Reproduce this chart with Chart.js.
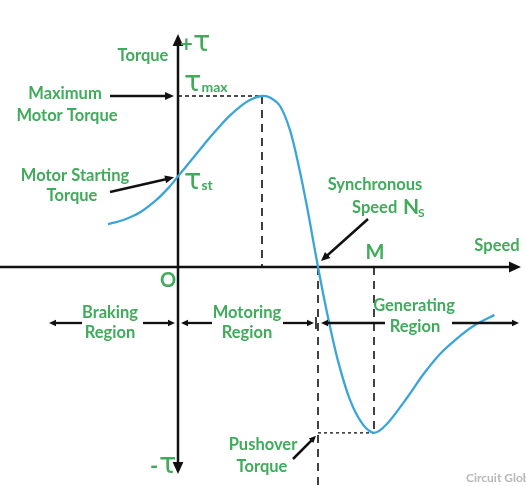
<!DOCTYPE html>
<html>
<head>
<meta charset="utf-8">
<script src="https://cdn.jsdelivr.net/npm/chart.js@4"></script>
<style>
  html, body { margin: 0; padding: 0; background: #fff; }
  canvas { display: block; }
</style>
</head>
<body>
<canvas id="torqueSpeed" width="526" height="486"></canvas>
<script>
// torque-speed curve, speed 0..Ns = 0..100, torque Tmax = 100
const speed  = [-50, -39, -27, -15, -6, 0, 9, 16, 23, 30, 37, 44, 51, 60, 66, 73, 80, 86, 92, 96, 100,
                106, 114, 123, 132, 140, 149, 164, 175, 187, 199, 211, 226];
const torque = [25, 27.5, 32, 39.5, 47, 53, 62, 69, 76, 82.5, 88.5, 93.5, 97.5, 100, 99, 94, 80, 60, 36, 18, 0,
                -25, -54, -78, -92, -97, -92, -76, -63, -51, -42, -34.5, -28];

// key points on the curve
const startTorque = 53;       // T_st at speed 0
const maxTorqueSpeed = 60;    // speed at T_max
const maxTorque = 100;
const syncSpeed = 100;        // Ns
const pushoverSpeed = 140;    // M
const pushoverTorque = -97;

const green = '#3fab5b';
const font = 'Lato, "DejaVu Sans", sans-serif';

function arrowHead(ctx, x1, y1, x2, y2, size) {
    const a = Math.atan2(y2 - y1, x2 - x1);
    ctx.beginPath();
    ctx.moveTo(x2, y2);
    ctx.lineTo(x2 - size * Math.cos(a) + size * 0.45 * Math.sin(a), y2 - size * Math.sin(a) - size * 0.45 * Math.cos(a));
    ctx.lineTo(x2 - size * Math.cos(a) - size * 0.45 * Math.sin(a), y2 - size * Math.sin(a) + size * 0.45 * Math.cos(a));
    ctx.closePath();
    ctx.fill();
}

function arrow(ctx, x1, y1, x2, y2, size, width) {
    const a = Math.atan2(y2 - y1, x2 - x1);
    ctx.lineWidth = width;
    ctx.beginPath();
    ctx.moveTo(x1, y1);
    ctx.lineTo(x2 - size * 0.8 * Math.cos(a), y2 - size * 0.8 * Math.sin(a));
    ctx.stroke();
    arrowHead(ctx, x1, y1, x2, y2, size);
}

function dashed(ctx, x1, y1, x2, y2, dash, width) {
    ctx.save();
    ctx.setLineDash(dash);
    ctx.lineWidth = width;
    ctx.beginPath();
    ctx.moveTo(x1, y1);
    ctx.lineTo(x2, y2);
    ctx.stroke();
    ctx.restore();
}

function label(ctx, text, x, y, size) {
    ctx.font = 'bold ' + size + 'px ' + font;
    ctx.fillText(text, x, y);
}

// tau with a subscript, left aligned at x
function tau(ctx, sub, x, y) {
    ctx.textAlign = 'left';
    ctx.font = '29px "DejaVu Sans", sans-serif';
    ctx.fillText('τ', x, y);
    const w = ctx.measureText('τ').width;
    if (sub) {
        ctx.font = 'bold 14px ' + font;
        ctx.fillText(sub, x + w, y + 4);
    }
    return w;
}

const diagram = {
    id: 'diagram',
    beforeDatasetsDraw(chart) {
        const { ctx, scales: { x, y } } = chart;
        const X = v => x.getPixelForValue(v);
        const Y = v => y.getPixelForValue(v);
        ctx.save();
        ctx.strokeStyle = '#111';
        ctx.fillStyle = '#111';

        // axes
        arrow(ctx, 0, Y(0), 521, Y(0), 12, 2.5);
        arrow(ctx, X(0), Y(0), X(0), 34, 12, 2.5);
        arrow(ctx, X(0), Y(0), X(0), 474, 12, 2.5);

        // guides
        dashed(ctx, X(0), Y(maxTorque), X(maxTorqueSpeed), Y(maxTorque), [4, 3], 1.3);
        dashed(ctx, X(maxTorqueSpeed), Y(maxTorque), X(maxTorqueSpeed), Y(0), [8, 6], 1.6);
        dashed(ctx, X(syncSpeed), Y(0), X(syncSpeed), 486, [8, 6], 1.6);
        dashed(ctx, X(pushoverSpeed), Y(0), X(pushoverSpeed), Y(pushoverTorque), [8, 6], 1.6);
        dashed(ctx, X(syncSpeed), Y(pushoverTorque), X(pushoverSpeed), Y(pushoverTorque), [3, 3], 1.3);
        ctx.restore();
    },
    afterDatasetsDraw(chart) {
        const { ctx, scales: { x, y } } = chart;
        const X = v => x.getPixelForValue(v);
        const Y = v => y.getPixelForValue(v);
        ctx.save();
        ctx.strokeStyle = '#111';
        ctx.fillStyle = '#111';

        // label pointers
        arrow(ctx, 110, Y(maxTorque), X(0) - 4, Y(maxTorque), 9, 2.5);
        arrow(ctx, 110, 192, X(0) - 4, Y(startTorque) + 1, 9, 2.5);
        arrow(ctx, 368, 219, X(syncSpeed) + 3, Y(0) - 6, 9, 2.5);
        arrow(ctx, 293, 459, X(syncSpeed) - 2, Y(pushoverTorque) + 3, 7, 2.5);

        // region arrows
        const ry = 323;
        arrow(ctx, 82, ry, 49, ry, 7, 2.3);
        arrow(ctx, 143, ry, X(0) - 3, ry, 7, 2.3);
        arrow(ctx, 212, ry, X(0) + 3, ry, 7, 2.3);
        arrow(ctx, 283, ry, X(syncSpeed) - 4, ry, 7, 2.3);
        arrow(ctx, 385, ry, X(syncSpeed) + 3, ry, 7, 2.3);
        arrow(ctx, 452, ry, 519, ry, 7, 2.3);
        ctx.lineWidth = 1.6;
        ctx.beginPath();
        ctx.moveTo(X(syncSpeed) - 2, ry - 6);
        ctx.lineTo(X(syncSpeed) - 2, ry + 6);
        ctx.stroke();

        // text
        ctx.fillStyle = green;
        ctx.textAlign = 'center';
        ctx.textBaseline = 'middle';
        const fs = 16.5;
        label(ctx, 'Torque', 143, 56, fs);
        label(ctx, 'Maximum', 65, 94, fs);
        label(ctx, 'Motor Torque', 67, 116, fs);
        label(ctx, 'Motor Starting', 75, 176, fs);
        label(ctx, 'Torque', 72, 196, fs);
        label(ctx, 'Synchronous', 375, 185, fs);
        label(ctx, 'Speed', 497, 246, fs);
        label(ctx, 'M', 375, 253, 20);
        label(ctx, 'O', 168, 281, 20);
        label(ctx, 'Braking', 110, 313, fs);
        label(ctx, 'Region', 110, 333, fs);
        label(ctx, 'Motoring', 247, 313, fs);
        label(ctx, 'Region', 247, 333, fs);
        label(ctx, 'Generating', 414, 306, fs);
        label(ctx, 'Region', 415, 327, fs);
        label(ctx, 'Pushover', 263, 445, fs);
        label(ctx, 'Torque', 262, 467, fs);

        ctx.textAlign = 'left';
        label(ctx, 'Speed', 352, 208, fs);
        ctx.font = 'bold 21px ' + font;
        ctx.fillText('N', 403, 207);
        ctx.font = 'bold 12px ' + font;
        ctx.fillText('S', 418, 213);

        ctx.font = 'bold 22px ' + font;
        ctx.fillText('+', 180, 45);
        tau(ctx, '', 193, 43);
        tau(ctx, 'max', 184, 83);
        tau(ctx, 'st', 184, 181);
        ctx.font = 'bold 22px ' + font;
        ctx.fillText('-', 150, 467);
        tau(ctx, '', 159, 465);

        ctx.fillStyle = '#b8b8b8';
        label(ctx, 'Circuit Globe', 466, 478, 12);
        ctx.restore();
    }
};

new Chart(document.getElementById('torqueSpeed'), {
    type: 'line',
    data: {
        datasets: [{
            data: speed.map((s, i) => ({ x: s, y: torque[i] })),
            borderColor: '#3ba5d9',
            borderWidth: 2.3,
            pointRadius: 0,
            fill: false,
            tension: 0.3
        }]
    },
    options: {
        responsive: false,
        animation: false,
        layout: { padding: 0 },
        plugins: { legend: { display: false }, tooltip: { enabled: false } },
        scales: {
            x: { type: 'linear', display: false, min: -127.14, max: 248.57 },
            y: { type: 'linear', display: false, min: -128.07, max: 156.14 }
        }
    },
    plugins: [diagram]
});
</script>
</body>
</html>
